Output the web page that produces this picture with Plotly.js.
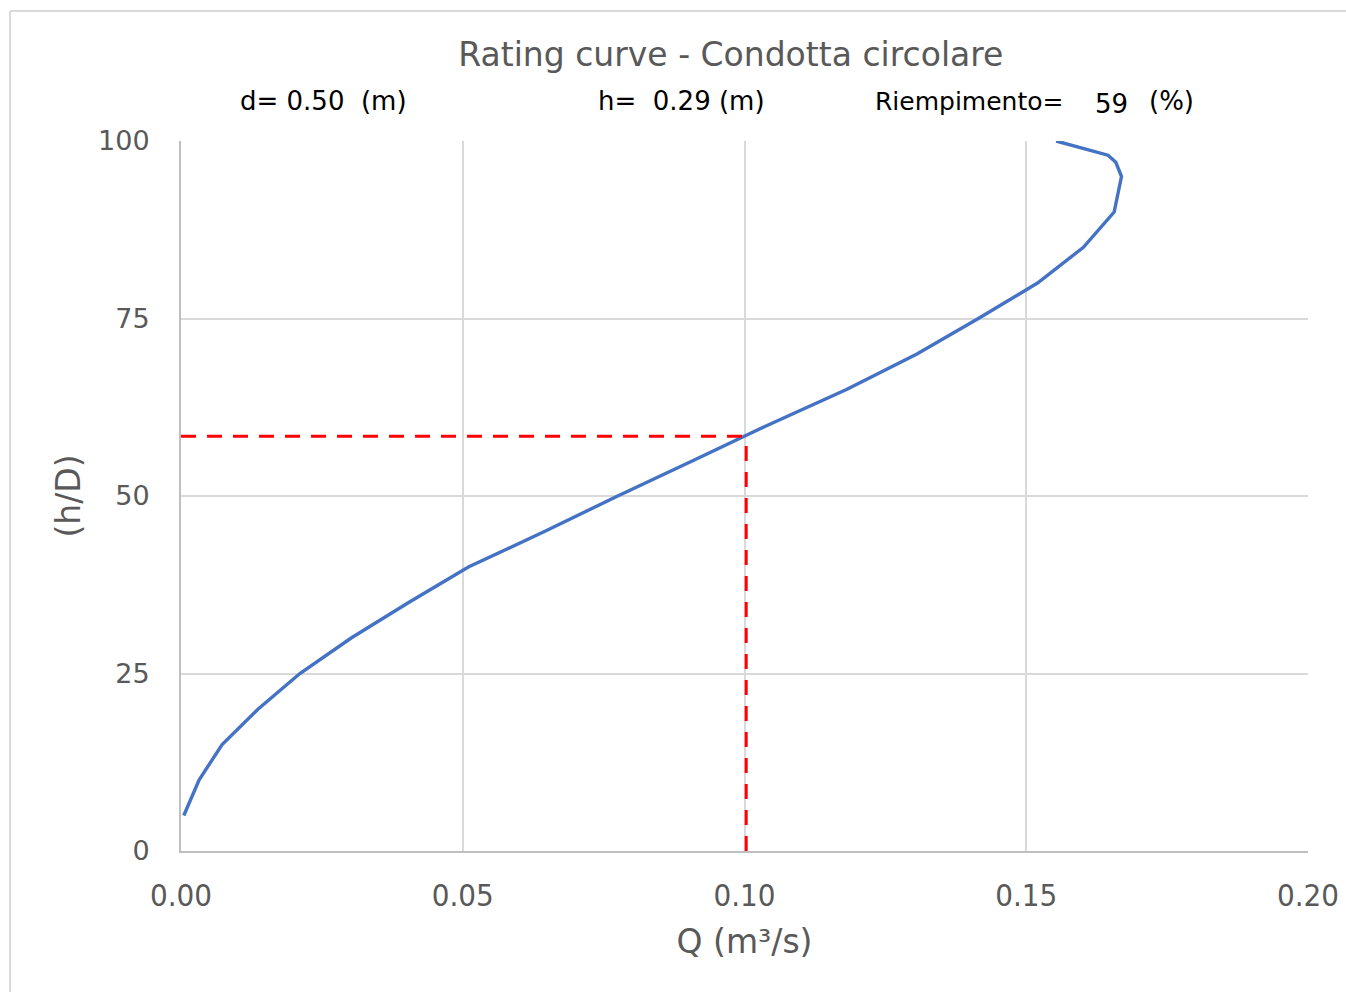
<!DOCTYPE html>
<html>
<head>
<meta charset="utf-8">
<script src="https://cdn.plot.ly/plotly-3.0.1.min.js"></script>
<style>
html,body{margin:0;padding:0;background:#fff;}
#chart{width:1346px;height:992px;}
</style>
</head>
<body>
<div id="chart"></div>
<script>
// Rating curve data (h/D in %, Q in m3/s)
const hD = [5,10,15,20,25,30,35,40,45,50,55,60,65,70,75,80,85,90,95,97,98,100];
const Q  = [0.0005,0.0032,0.0073,0.0137,0.0211,0.0302,0.0404,0.0510,0.0645,0.0775,0.0909,0.1042,0.1181,0.1306,0.1415,0.1520,0.1601,0.1656,0.1669,0.1659,0.1645,0.1553];

// Operating point
const pointQ = [0.1003];
const pointH = [58.4];

// Header values
const diameter = "0.50";
const depth = "0.29";
const filling = "59";

const xTicks = [0, 0.05, 0.10, 0.15, 0.20];
const xTickText = ["0.00","0.05","0.10","0.15","0.20"];
const yTicks = [0, 25, 50, 75, 100];

const condensed = "DejaVu Sans Condensed, DejaVu Sans, sans-serif";
const wide = "DejaVu Sans, Verdana, sans-serif";
const grey = "#595959";

const traces = [
  {x: Q, y: hD, type: "scatter", mode: "lines",
   line: {color: "#4472C4", width: 3.4}, hoverinfo: "x+y"},
  {x: [0, pointQ[0]], y: [pointH[0], pointH[0]], type: "scatter", mode: "lines",
   line: {color: "#FF0000", width: 3, dash: "15px,11px"}},
  {x: [pointQ[0], pointQ[0]], y: [0, pointH[0]], type: "scatter", mode: "lines",
   line: {color: "#FF0000", width: 3, dash: "15px,11px"}}
];

const layout = {
  width: 1346, height: 992,
  margin: {l: 181, r: 38, t: 141, b: 141},
  paper_bgcolor: "#fff", plot_bgcolor: "#fff",
  showlegend: false,
  title: {text: "Rating curve - Condotta circolare", x: 0.543, xanchor: "center",
          y: 0.945, yanchor: "middle",
          font: {family: wide, size: 33, color: grey}},
  xaxis: {
    range: [0, 0.2], tickvals: xTicks, ticktext: xTickText,
    showgrid: true, gridcolor: "#d9d9d9", gridwidth: 2,
    showline: true, linecolor: "#bfbfbf", linewidth: 2,
    zeroline: false, ticks: "", ticklabelstandoff: 16,
    tickfont: {family: condensed, size: 31, color: grey},
    title: {text: "Q (m³/s)", standoff: 18,
            font: {family: wide, size: 33, color: grey}}
  },
  yaxis: {
    range: [0, 100], tickvals: yTicks,
    showgrid: true, gridcolor: "#d9d9d9", gridwidth: 2,
    showline: true, linecolor: "#bfbfbf", linewidth: 2,
    zeroline: false, ticks: "", ticklabelstandoff: 24,
    tickfont: {family: wide, size: 27, color: grey},
    title: {text: "(h/D)", standoff: 8,
            font: {family: wide, size: 33, color: grey}}
  },
  shapes: [
    {type: "line", xref: "paper", yref: "paper", x0: -0.1517, x1: 1.2, y0: 1.183, y1: 1.183,
     line: {color: "#d9d9d9", width: 2}},
    {type: "line", xref: "paper", yref: "paper", x0: -0.1517, x1: -0.1517, y0: 1.183, y1: -0.3,
     line: {color: "#d9d9d9", width: 2}}
  ],
  annotations: [
    {xref: "paper", yref: "paper", x: (238-181)/1127, y: (851-101)/710, xanchor: "left", yanchor: "middle",
     text: "d= " + diameter + "  (m)", showarrow: false,
     font: {family: wide, size: 26, color: "#000"}},
    {xref: "paper", yref: "paper", x: (596-181)/1127, y: (851-101)/710, xanchor: "left", yanchor: "middle",
     text: "h=  " + depth + " (m)", showarrow: false,
     font: {family: wide, size: 26, color: "#000"}},
    {xref: "paper", yref: "paper", x: (873-181)/1127, y: (851-101)/710, xanchor: "left", yanchor: "middle",
     text: "Riempimento=", showarrow: false,
     font: {family: wide, size: 25, color: "#000"}},
    {xref: "paper", yref: "paper", x: (1093-181)/1127, y: (851-104)/710, xanchor: "left", yanchor: "middle",
     text: filling, showarrow: false,
     font: {family: wide, size: 26, color: "#000"}},
    {xref: "paper", yref: "paper", x: (1147-181)/1127, y: (851-101)/710, xanchor: "left", yanchor: "middle",
     text: "(%)", showarrow: false,
     font: {family: wide, size: 26, color: "#000"}}
  ]
};

Plotly.newPlot("chart", traces, layout, {displayModeBar: false, staticPlot: true});
</script>
</body>
</html>
